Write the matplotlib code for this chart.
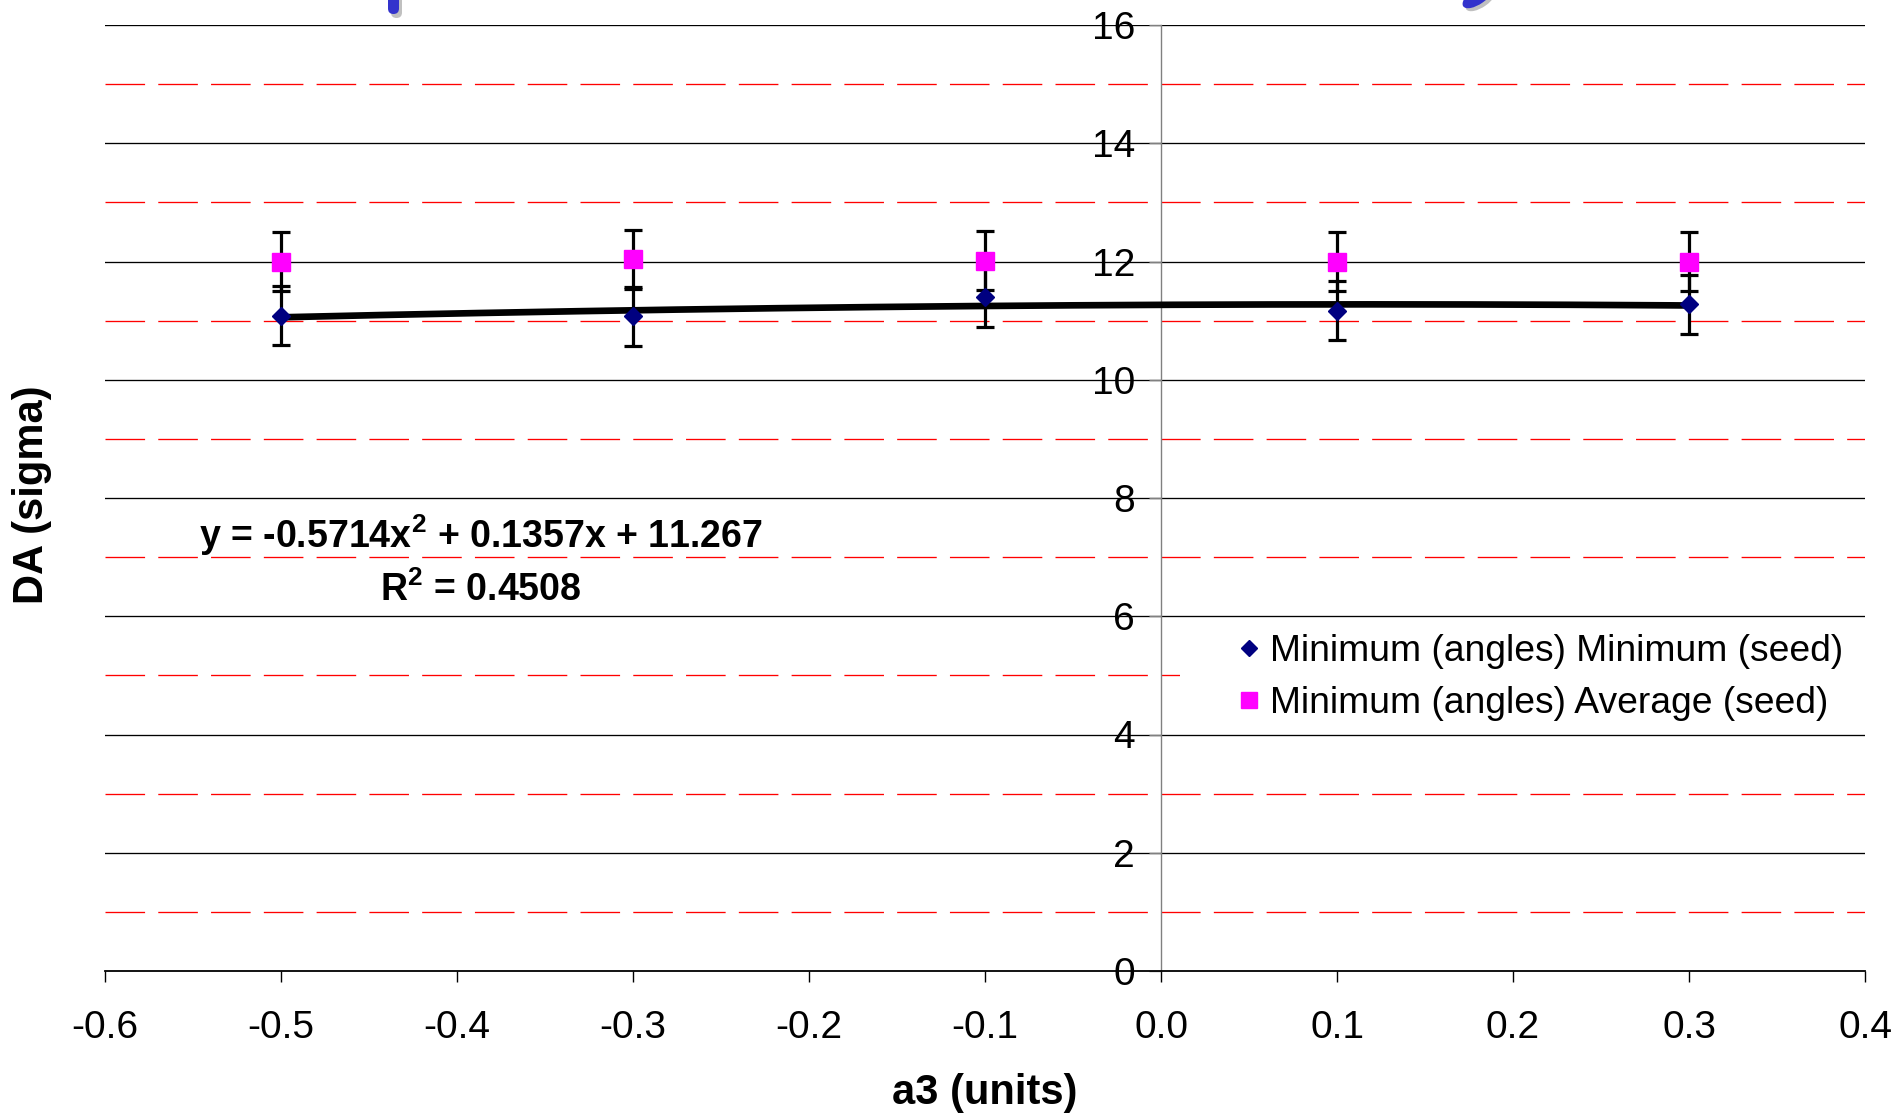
import numpy as np
import matplotlib
matplotlib.use("Agg")
import matplotlib.pyplot as plt
from matplotlib.lines import Line2D
from matplotlib.patches import Rectangle, FancyBboxPatch, Ellipse
from matplotlib.transforms import IdentityTransform

plt.rcParams['font.family'] = ['Liberation Sans', 'DejaVu Sans']
plt.rcParams['axes.unicode_minus'] = False
plt.rcParams['mathtext.fontset'] = 'custom'
plt.rcParams['mathtext.rm'] = 'Liberation Sans'
plt.rcParams['mathtext.bf'] = 'Liberation Sans:bold'

# ---- data ----
a3_values = [-0.5, -0.3, -0.1, 0.1, 0.3]
min_seed = [11.08, 11.07, 11.40, 11.17, 11.28]
min_seed_err = [0.5, 0.5, 0.5, 0.5, 0.5]
avg_seed = [12.00, 12.04, 12.01, 12.00, 12.00]
avg_seed_err = [0.5, 0.5, 0.5, 0.5, 0.5]
trend_coef = [-0.5714, 0.1357, 11.267]
r_squared = 0.4508

x_ticks = [-0.6, -0.5, -0.4, -0.3, -0.2, -0.1, 0.0, 0.1, 0.2, 0.3, 0.4]
x_tick_labels = ['-0.6', '-0.5', '-0.4', '-0.3', '-0.2', '-0.1', '0.0', '0.1', '0.2', '0.3', '0.4']
y_ticks = [0, 2, 4, 6, 8, 10, 12, 14, 16]
y_minor_levels = [1, 3, 5, 7, 9, 11, 13, 15]

label_min = 'Minimum (angles) Minimum (seed)'
label_avg = 'Minimum (angles) Average (seed)'

W, H = 1893, 1113
fig = plt.figure(figsize=(W / 100, H / 100), dpi=100)
ax = fig.add_axes([105 / W, 1 - 971 / H, 1760 / W, 946 / H])
ax.set_xlim(-0.6, 0.4)
ax.set_ylim(0, 16)

# gridlines
for v in y_ticks[1:]:
    ax.axhline(v, color='black', lw=0.95, zorder=1)
for v in y_minor_levels:
    ax.axhline(v, color='#ff0000', lw=0.95, linestyle=(0, (30, 10)), zorder=1)

# white box behind legend
ax.add_patch(Rectangle((0.011, 4.25), 0.389, 1.5, facecolor='white',
                       edgecolor='none', zorder=2))

# spines
ax.spines['top'].set_visible(False)
ax.spines['right'].set_visible(False)
ax.spines['left'].set_position(('data', 0))
ax.spines['left'].set_color('#808080')
ax.spines['left'].set_linewidth(1.0)
ax.spines['left'].set_zorder(1.5)
ax.spines['bottom'].set_color('black')
ax.spines['bottom'].set_linewidth(1.3)

ax.set_xticks(x_ticks)
ax.set_xticklabels(x_tick_labels)
ax.set_yticks(y_ticks)
ax.set_yticklabels([str(v) for v in y_ticks])
ax.tick_params(axis='y', direction='out', length=8.6, width=1.0, color='#808080',
               pad=10, labelsize=28)
ax.tick_params(axis='x', direction='out', length=8, width=1.0, color='black',
               pad=20, labelsize=28)

# trendline
xt = np.linspace(min(a3_values), max(a3_values), 200)
ax.plot(xt, np.polyval(trend_coef, xt), color='black', lw=4.8, zorder=3,
        solid_capstyle='round')

# data with error bars
ax.errorbar(a3_values, avg_seed, yerr=avg_seed_err, fmt='s', color='#ff00ff',
            mec='#ff00ff', ms=12.5, ecolor='black', elinewidth=2.3,
            capsize=6.5, capthick=2.3, zorder=4)
ax.errorbar(a3_values, min_seed, yerr=min_seed_err, fmt='D', color='#000080',
            mec='#000080', ms=9.5, ecolor='black', elinewidth=2.3,
            capsize=6.5, capthick=2.3, zorder=4)

# equation text
eq = 'y = %.4fx$^{\\mathbf{2}}$ + %.4fx + %.3f' % tuple(trend_coef)
ax.text((481 - 105) / 1760, 1 - (535 - 25) / 946, eq, transform=ax.transAxes,
        ha='center', va='center', fontsize=27, fontweight='bold', zorder=5)
ax.text((481 - 105) / 1760, 1 - (590 - 25) / 946,
        'R$^{\\mathbf{2}}$ = %.4f' % r_squared,
        transform=ax.transAxes, ha='center', va='center', fontsize=27,
        fontweight='bold', zorder=5)

# legend
handles = [
    Line2D([], [], linestyle='none', marker='D', color='#000080', ms=8.5),
    Line2D([], [], linestyle='none', marker='s', color='#ff00ff', ms=11),
]
leg = ax.legend(handles, [label_min, label_avg], loc='upper left',
                bbox_to_anchor=(1234 / W, 1 - 634 / H),
                bbox_transform=fig.transFigure, frameon=False, fontsize=26.8,
                borderpad=0, handlelength=0.8, handletextpad=0.16,
                labelspacing=0.45, borderaxespad=0)
leg.set_zorder(6)

# axis titles
fig.text(32 / W, 1 - 495 / H, 'DA (sigma)', rotation=90, ha='center',
         va='center', fontsize=30, fontweight='bold')
fig.text(985 / W, 1 - 1093 / H, 'a3 (units)', ha='center', va='center',
         fontsize=30, fontweight='bold')

# decorative clipped shapes at the top edge
idt = IdentityTransform()
fig.patches.append(FancyBboxPatch((391, H - 18), 11, 40,
                                  boxstyle='round,pad=0,rounding_size=5.5',
                                  facecolor='#c0c0c0', edgecolor='none',
                                  transform=idt, figure=fig))
fig.patches.append(FancyBboxPatch((388, H - 14), 11, 40,
                                  boxstyle='round,pad=0,rounding_size=5.5',
                                  facecolor='#3333cc', edgecolor='none',
                                  transform=idt, figure=fig))
fig.patches.append(Ellipse((1481, H + 1), 36, 16, angle=35,
                           facecolor='#c0c0c0', edgecolor='none',
                           transform=idt, figure=fig))
fig.patches.append(Ellipse((1478, H + 4), 36, 16, angle=35,
                           facecolor='#3333cc', edgecolor='none',
                           transform=idt, figure=fig))

fig.savefig('out.png', dpi=100)
